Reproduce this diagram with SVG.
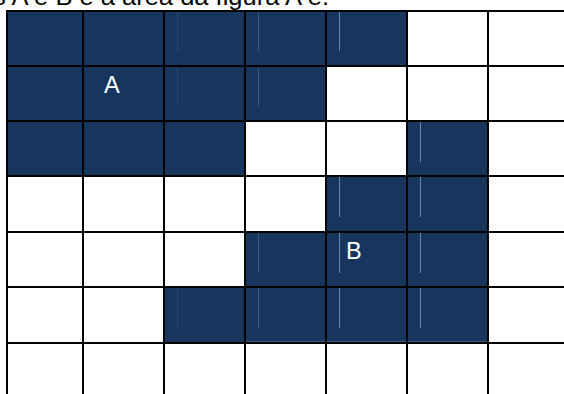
<svg xmlns="http://www.w3.org/2000/svg" width="564" height="394" viewBox="0 0 564 394">
<style>
.f{fill:#17365d}
.g{stroke:#000;stroke-width:2;fill:none}
.a{stroke:#6a88ad;stroke-width:1}
.a2{stroke:#3b5a82;stroke-width:1}
.lbl{font-family:"Liberation Sans",Arial,sans-serif;font-size:23.5px;fill:#fff}
.top{font-family:"Liberation Sans",Arial,sans-serif;font-size:24px;fill:#000}
</style>
<rect width="564" height="394" fill="#fff"/>
<text class="top" x="-7" y="4.5" textLength="336" lengthAdjust="spacingAndGlyphs">s A e B e a área da figura A e.</text>
<g id="figureA">
<rect class="f" x="7" y="11" width="400" height="55"/>
<rect class="f" x="7" y="66" width="319" height="55"/>
<rect class="f" x="7" y="121" width="238" height="55"/>
</g>
<g id="figureB">
<rect class="f" x="407" y="121" width="81" height="55"/>
<rect class="f" x="326" y="176" width="162" height="56"/>
<rect class="f" x="245" y="232" width="243" height="55"/>
<rect class="f" x="164" y="287" width="324" height="56"/>
</g>
<g id="artifacts">
<line class="a2" x1="177.5" y1="12" x2="177.5" y2="51" stroke-opacity="0.5"/>
<line class="a2" x1="177.5" y1="67" x2="177.5" y2="106" stroke-opacity="0.5"/>
<line class="a2" x1="177.5" y1="288" x2="177.5" y2="328" stroke-opacity="0.5"/>
<line class="a2" x1="258.5" y1="12" x2="258.5" y2="51"/>
<line class="a2" x1="258.5" y1="67" x2="258.5" y2="106"/>
<line class="a2" x1="258.5" y1="233" x2="258.5" y2="273"/>
<line class="a2" x1="258.5" y1="288" x2="258.5" y2="328"/>
<line class="a" x1="339.5" y1="12" x2="339.5" y2="51"/>
<line class="a" x1="339.5" y1="177" x2="339.5" y2="217"/>
<line class="a" x1="339.5" y1="233" x2="339.5" y2="273"/>
<line class="a" x1="339.5" y1="288" x2="339.5" y2="328"/>
<line class="a" x1="420.5" y1="122" x2="420.5" y2="162"/>
<line class="a" x1="420.5" y1="177" x2="420.5" y2="217"/>
<line class="a" x1="420.5" y1="233" x2="420.5" y2="273"/>
<line class="a" x1="420.5" y1="288" x2="420.5" y2="328"/>
<line class="a2" x1="246" y1="341.5" x2="487" y2="341.5"/>
</g>
<g id="grid" class="g">
<path d="M7 11V394M83 11V394M164 11V394M245 11V394M326 11V394M407 11V394M488 11V394"/>
<path d="M6 11H564M6 66H564M6 121H564M6 176H564M6 232H564M6 287H564M6 343H564"/>
</g>
<g id="labels">
<text class="lbl" x="104" y="93">A</text>
<text class="lbl" x="346" y="259">B</text>
</g>
</svg>
